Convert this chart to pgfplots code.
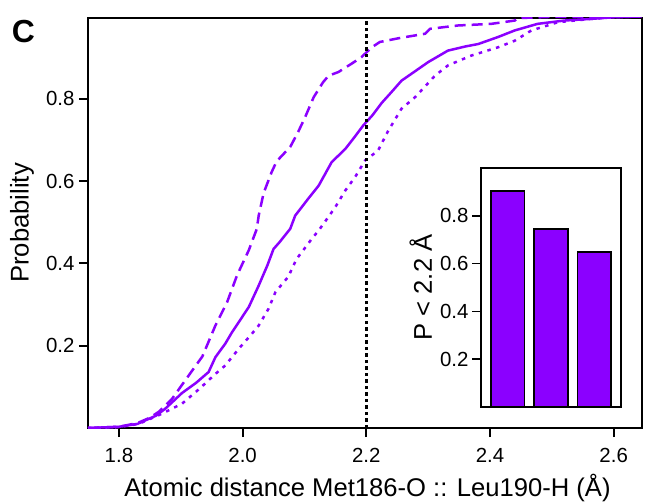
\documentclass[border=0pt]{standalone}
\usepackage{pgfplots}
\pgfplotsset{compat=1.18}
\usepackage{fontspec}
\setmainfont{Liberation Sans}
\definecolor{vio}{RGB}{139,0,255}
\begin{document}
\begin{tikzpicture}
\path[use as bounding box] (-88bp,-74bp) rectangle (557bp,428bp);
\begin{axis}[
  at={(0,0)}, anchor=south west, scale only axis,
  width=553.5bp, height=410.3bp,
  xmin=1.75, xmax=2.645, ymin=0, ymax=0.997,
  axis line style={line width=2bp},
  every tick/.style={black, line width=2bp},
  tick align=outside, major tick length=9bp,
  xtick={1.8,2.0,2.2,2.4,2.6}, ytick={0.2,0.4,0.6,0.8},
  xtick pos=bottom, ytick pos=left,
  /pgf/number format/assume math mode=true,
  /pgf/number format/.cd, fixed, fixed zerofill, precision=1, /pgfplots/.cd,
  tick label style={font=\fontsize{20.5}{23}\selectfont},
  xticklabel style={yshift=-8bp},
  yticklabel style={xshift=-1bp},
  xlabel={Atomic distance Met186-O :: Leu190-H (Å)},
  ylabel={Probability},
  every axis x label/.style={at={(axis description cs:0.505,-0.146)}, anchor=center, font=\fontsize{25.7}{29}\selectfont},
  every axis y label/.style={at={(axis description cs:-0.119,0.5)}, rotate=90, anchor=center, font=\fontsize{25.7}{29}\selectfont},
  clip=true,
]
% solid
\addplot[vio, line width=2.5bp] coordinates {
(1.75,0) (1.80,0.003) (1.83,0.010) (1.86,0.030) (1.875,0.047) (1.902,0.085)
(1.925,0.11) (1.945,0.136) (1.956,0.172) (1.972,0.205) (1.983,0.233) (1.995,0.26)
(2.01,0.294) (2.026,0.346) (2.04,0.395) (2.05,0.435) (2.06,0.452) (2.077,0.484)
(2.085,0.516) (2.106,0.557) (2.123,0.589) (2.144,0.646) (2.166,0.678) (2.18,0.705)
(2.195,0.735) (2.21,0.76) (2.225,0.790) (2.24,0.815) (2.257,0.844) (2.28,0.868)
(2.30,0.889) (2.332,0.917) (2.36,0.927) (2.381,0.933) (2.413,0.950) (2.44,0.966)
(2.477,0.982) (2.52,0.990) (2.563,0.994) (2.60,0.998) (2.645,1.0)};
% dashed
\addplot[vio, line width=2.5bp, dash pattern=on 11bp off 6bp] coordinates {
(1.75,0) (1.80,0.003) (1.83,0.012) (1.85,0.025) (1.865,0.040) (1.886,0.071)
(1.913,0.128) (1.935,0.174) (1.956,0.249) (1.975,0.306) (1.991,0.371) (2.01,0.432)
(2.023,0.484) (2.026,0.516) (2.034,0.571) (2.047,0.622) (2.055,0.648) (2.077,0.683)
(2.09,0.72) (2.101,0.755) (2.115,0.804) (2.13,0.84) (2.139,0.856) (2.155,0.865)
(2.176,0.885) (2.192,0.901) (2.209,0.925) (2.222,0.938) (2.252,0.947) (2.295,0.958)
(2.303,0.970) (2.348,0.978) (2.402,0.982) (2.44,0.990) (2.445,0.996) (2.50,0.999)
(2.645,1.0)};
% dotted
\addplot[vio, line width=2.5bp, dash pattern=on 3.5bp off 5.5bp] coordinates {
(1.75,0) (1.80,0.002) (1.832,0.010) (1.87,0.035) (1.902,0.059) (1.93,0.095)
(1.955,0.13) (1.972,0.152) (1.994,0.193) (2.015,0.229) (2.026,0.249) (2.042,0.29)
(2.053,0.33) (2.074,0.368) (2.087,0.41) (2.10,0.436) (2.112,0.46) (2.123,0.48)
(2.135,0.505) (2.150,0.537) (2.166,0.577) (2.182,0.61) (2.198,0.65) (2.219,0.674)
(2.235,0.721) (2.257,0.776) (2.279,0.804) (2.311,0.856) (2.332,0.881) (2.37,0.905)
(2.413,0.925) (2.44,0.941) (2.467,0.966) (2.51,0.986) (2.563,0.994) (2.60,0.998)
(2.645,1.0)};
% threshold
\addplot[black, line width=3.5bp, dash pattern=on 3.5bp off 3bp] coordinates {(2.2,0) (2.2,0.997)};
\end{axis}
\node[font=\bfseries\fontsize{32}{32}\selectfont, inner sep=0pt, anchor=center] at (-64.5bp,396.8bp) {C};
\begin{axis}[
  at={(393bp,21bp)}, anchor=south west, scale only axis,
  width=140bp, height=239bp,
  axis background/.style={fill=white},
  xmin=-0.613, xmax=2.613, ymin=0, ymax=1.0,
  axis line style={line width=1.6bp},
  every tick/.style={black, line width=1.6bp},
  tick align=outside, major tick length=9bp,
  xtick=\empty, ytick={0.2,0.4,0.6,0.8}, ytick pos=left,
  /pgf/number format/assume math mode=true,
  /pgf/number format/.cd, fixed, fixed zerofill, precision=1, /pgfplots/.cd,
  tick label style={font=\fontsize{20.5}{23}\selectfont},
  ylabel={P < 2.2 Å},
  every axis y label/.style={at={(axis description cs:-0.43,0.5)}, rotate=90, anchor=center, font=\fontsize{25.7}{29}\selectfont},
]
\addplot[ybar, bar width=0.776, fill=vio, draw=black, line width=1.6bp] coordinates {(0,0.905) (1,0.745) (2,0.648)};
\end{axis}
\end{tikzpicture}
\end{document}
